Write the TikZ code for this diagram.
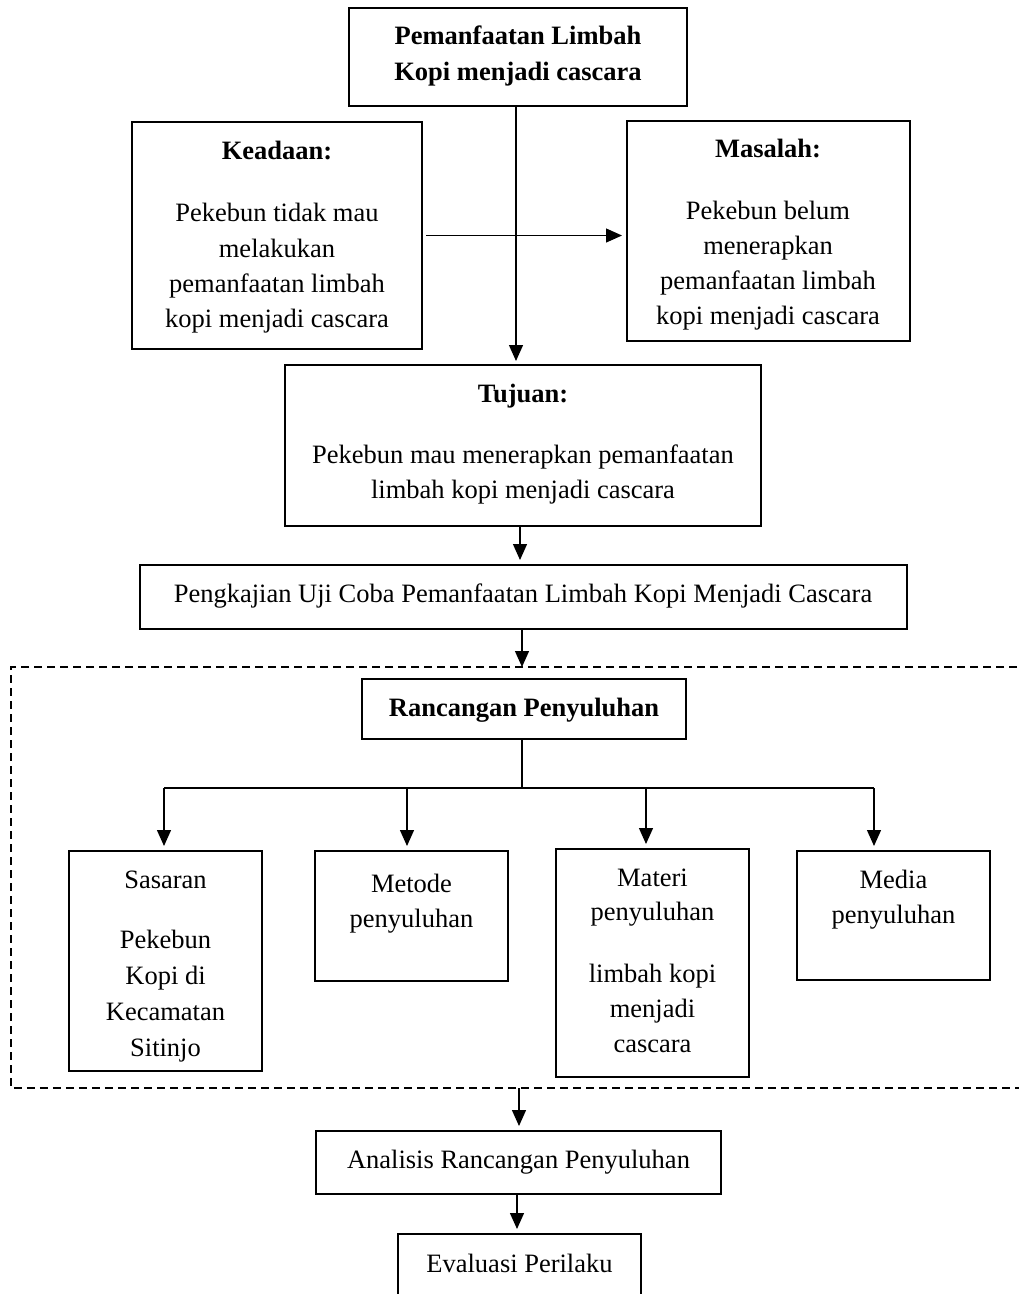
\documentclass[tikz,border=0pt]{standalone}
\usepackage{fontspec}
\setmainfont{Liberation Serif}
\usetikzlibrary{arrows.meta}
\begin{document}
\begin{tikzpicture}[x=1pt,y=-1pt,
  box/.style={draw, line width=2.4pt, inner sep=0pt, outer sep=0pt},
  txt/.style={anchor=base, inner sep=0pt, font=\fontsize{26.5}{35}\selectfont},
  btxt/.style={txt, font=\fontsize{26.5}{35}\selectfont\bfseries},
  conn/.style={line width=1.3pt},
  arr/.style={conn, -{Triangle[length=16pt,width=14pt]}, shorten >=5pt},
  dashbox/.style={line width=1.5pt, dash pattern=on 8pt off 5pt}]
\useasboundingbox (0,0) rectangle (1019,1294);
\clip (0,0) rectangle (1019,1294);
\fill[white] (0,0) rectangle (1019,1294);

% boxes
\node[box, minimum width=338pt, minimum height=98pt] (top) at (518,57) {};
\node[box, minimum width=290pt, minimum height=227pt] (kea) at (277,235.5) {};
\node[box, minimum width=283pt, minimum height=220pt] (mas) at (768.5,231) {};
\node[box, minimum width=476pt, minimum height=161pt] (tuj) at (523,445.5) {};
\node[box, minimum width=767pt, minimum height=64pt] (pen) at (523.5,597) {};
\node[box, minimum width=324pt, minimum height=60pt] (ran) at (524,709) {};
\node[box, minimum width=193pt, minimum height=220pt] (sas) at (165.5,961) {};
\node[box, minimum width=193pt, minimum height=130pt] (met) at (411.5,916) {};
\node[box, minimum width=193pt, minimum height=228pt] (mat) at (652.5,963) {};
\node[box, minimum width=193pt, minimum height=129pt] (med) at (893.5,915.5) {};
\node[box, minimum width=405pt, minimum height=63pt] (ana) at (518.5,1162.5) {};
\node[box, minimum width=243pt, minimum height=80pt] (eva) at (519.5,1274) {};

% texts
\node[btxt] (top1) at (518,44) {Pemanfaatan Limbah};
\node[btxt] (top2) at (518,80) {Kopi menjadi cascara};

\node[btxt] (kea0) at (277,159) {Keadaan:};
\node[txt] (kea1) at (277,221) {Pekebun tidak mau};
\node[txt] (kea2) at (277,257) {melakukan};
\node[txt] (kea3) at (277,292) {pemanfaatan limbah};
\node[txt] (kea4) at (277,327) {kopi menjadi cascara};

\node[btxt] (mas0) at (768,157) {Masalah:};
\node[txt] (mas1) at (768,219) {Pekebun belum};
\node[txt] (mas2) at (768,254) {menerapkan};
\node[txt] (mas3) at (768,289) {pemanfaatan limbah};
\node[txt] (mas4) at (768,324) {kopi menjadi cascara};

\node[btxt] (tuj0) at (523,402) {Tujuan:};
\node[txt] (tuj1) at (523,463) {Pekebun mau menerapkan pemanfaatan};
\node[txt] (tuj2) at (523,498) {limbah kopi menjadi cascara};

\node[txt] (pen1) at (523,602) {Pengkajian Uji Coba Pemanfaatan Limbah Kopi Menjadi Cascara};

\node[btxt] (ran1) at (524,716) {Rancangan Penyuluhan};

\node[txt] (sas0) at (165.5,888) {Sasaran};
\node[txt] (sas1) at (165.5,948) {Pekebun};
\node[txt] (sas2) at (165.5,984) {Kopi di};
\node[txt] (sas3) at (165.5,1020) {Kecamatan};
\node[txt] (sas4) at (165.5,1056) {Sitinjo};

\node[txt] (met1) at (411.5,892) {Metode};
\node[txt] (met2) at (411.5,927) {penyuluhan};

\node[txt] (mat1) at (652.5,886) {Materi};
\node[txt] (mat2) at (652.5,920) {penyuluhan};
\node[txt] (mat3) at (652.5,982) {limbah kopi};
\node[txt] (mat4) at (652.5,1017) {menjadi};
\node[txt] (mat5) at (652.5,1052) {cascara};

\node[txt] (med1) at (893.5,888) {Media};
\node[txt] (med2) at (893.5,923) {penyuluhan};

\node[txt] (ana1) at (518.5,1168) {Analisis Rancangan Penyuluhan};
\node[txt] (eva1) at (519.5,1272) {Evaluasi Perilaku};

% dashed frame
\coordinate (dtop) at (522,667);
\coordinate (dbot) at (519,1088);
\draw[dashbox] (1030,667) -- (11,667) -- (11,1088) -- (1030,1088);

% connectors
\coordinate (vx) at (516,106);
\draw[arr, shorten >=4pt] (vx) -- (vx |- tuj.north);
\draw[arr, shorten <=4pt] (kea.east) -- (kea.east -| mas.west);
\draw[arr] ([xshift=-3pt]tuj.south) -- ([xshift=-3pt]tuj.south |- pen.north);
\draw[arr, shorten >=0pt] ([xshift=-1.5pt]pen.south) -- (dtop);
\coordinate (fork) at (522,788);
\draw[conn] ([xshift=-2pt]ran.south) -- (fork);
\coordinate (d1) at (164,788);
\coordinate (d2) at (407,788);
\coordinate (d3) at (646,788);
\coordinate (d4) at (874,788);
\draw[conn] (d1) -- (d4);
\draw[arr] (d1) -- (d1 |- sas.north);
\draw[arr] (d2) -- (d2 |- met.north);
\draw[arr] (d3) -- (d3 |- mat.north);
\draw[arr] (d4) -- (d4 |- med.north);
\draw[arr] (dbot) -- (dbot |- ana.north);
\draw[arr] ([xshift=-1.5pt]ana.south) -- ([xshift=-1.5pt]ana.south |- eva.north);
\end{tikzpicture}
\end{document}
